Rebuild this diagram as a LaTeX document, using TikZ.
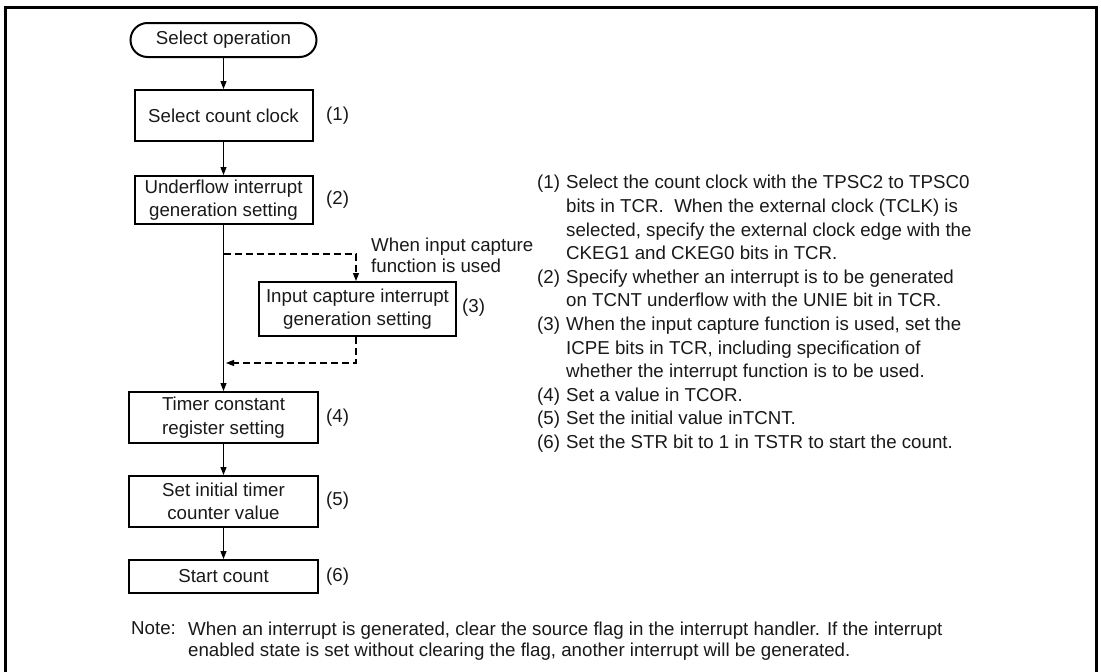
\documentclass[tikz,border=0pt]{standalone}
\usepackage{fontspec}
\setmainfont{Liberation Sans}
\usetikzlibrary{arrows.meta}
\begin{document}
\begin{tikzpicture}[x=1pt,y=-1pt,
  every node/.style={font=\fontsize{18.7}{23.6}\selectfont, inner sep=0pt, text=black!90},
  box/.style={draw=black, line width=2pt, align=center, minimum width=178pt, minimum height=51pt},
  wbox/.style={box, minimum width=189pt},
  conn/.style={line width=1.1pt, -{Triangle[length=8pt,width=6pt]}},
  dconn/.style={conn, dash pattern=on 7pt off 4pt},
  lbl/.style={anchor=west},
  item/.style={anchor=north west, align=left},
  notetext/.style={anchor=north west, align=left, font=\fontsize{18.7}{21.5}\selectfont}]
\useasboundingbox (0,0) rectangle (1101,672);
\draw[line width=3pt] (5.5,672) -- (5.5,7.5) -- (1096.5,7.5) -- (1096.5,672);

\node[box, rounded corners=17pt, minimum width=186pt, minimum height=34pt] (op) at (223.5,40) {Select operation};
\node[box] (c1) at (223.5,115.5) {Select count clock};
\node[box, minimum height=48pt] (c2) at (223.5,200) {Underflow interrupt\\generation setting};
\node[box, minimum width=197pt, minimum height=54pt] (c3) at (357.5,309) {Input capture interrupt\\generation setting};
\node[wbox] (c4) at (223.5,417.5) {Timer constant\\register setting};
\node[wbox] (c5) at (223.5,501.5) {Set initial timer\\counter value};
\node[wbox, minimum height=33pt] (c6) at (223.5,576.5) {Start count};

\node[lbl] (l1) at (326,115.5) {(1)};
\node[lbl] (l2) at (326,200) {(2)};
\node[lbl] (l3) at (462,308) {(3)};
\node[lbl] (l4) at (326,418) {(4)};
\node[lbl] (l5) at (326,501) {(5)};
\node[lbl] (l6) at (326,577) {(6)};

\node[anchor=north west, align=left, font=\fontsize{18.7}{21}\selectfont] (cond) at (371,237.5) {When input capture\\function is used};

\draw[conn] (op) -- (c1);
\draw[conn] (c1) -- (c2);
\draw[conn] (c2) -- (c4);
\draw[conn] (c4) -- (c5);
\draw[conn] (c5) -- (c6);

\coordinate (b1) at (223.5,254);
\coordinate (b2) at (356,254);
\coordinate (b3) at (356,363);
\coordinate (b4) at (226,363);
\draw[dconn] (b1) -- (b2) -- (b2 |- c3.north);
\draw[dconn] (b3 |- c3.south) -- (b3) -- (b4);

\node[item] (n1) at (537,175.2) {(1)};
\node[item] (t1) at (566,175.2) {Select the count clock with the TPSC2 to TPSC0\\bits in TCR.\ \ When the external clock (TCLK) is\\selected, specify the external clock edge with the\\CKEG1 and CKEG0 bits in TCR.};
\node[item] (n2) at (537,269.6) {(2)};
\node[item] (t2) at (566,269.6) {Specify whether an interrupt is to be generated\\on TCNT underflow with the UNIE bit in TCR.};
\node[item] (n3) at (537,316.8) {(3)};
\node[item] (t3) at (566,316.8) {When the input capture function is used, set the\\ICPE bits in TCR, including specification of\\whether the interrupt function is to be used.};
\node[item] (n4) at (537,387.6) {(4)};
\node[item] (t4) at (566,387.6) {Set a value in TCOR.};
\node[item] (n5) at (537,411.2) {(5)};
\node[item] (t5) at (566,411.2) {Set the initial value inTCNT.};
\node[item] (n6) at (537,434.8) {(6)};
\node[item] (t6) at (566,434.8) {Set the STR bit to 1 in TSTR to start the count.};

\node[notetext] (nl) at (131,621.5) {Note:};
\node[notetext] (nt) at (188,621.5) {When an interrupt is generated, clear the source flag in the interrupt handler. If the interrupt\\enabled state is set without clearing the flag, another interrupt will be generated.};
\end{tikzpicture}
\end{document}
